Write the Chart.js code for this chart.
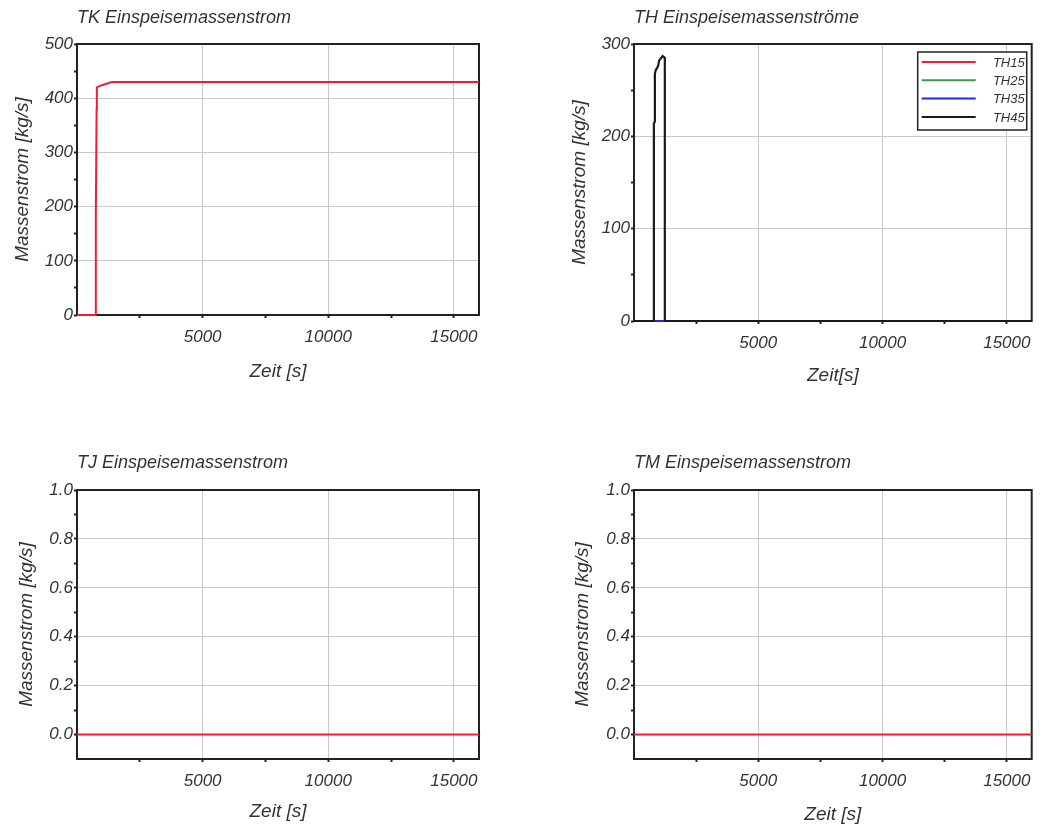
<!DOCTYPE html>
<html><head><meta charset="utf-8">
<script src="https://cdn.jsdelivr.net/npm/chart.js@4.4.0/dist/chart.umd.min.js"></script>
<style>
html,body{margin:0;padding:0;background:#fff;width:1040px;height:829px;overflow:hidden}
canvas{position:absolute}
</style></head><body>
<canvas id="cTK" width="520" height="414" style="left:0;top:0"></canvas>
<canvas id="cTH" width="520" height="414" style="left:520px;top:0"></canvas>
<canvas id="cTJ" width="520" height="415" style="left:0;top:414px"></canvas>
<canvas id="cTM" width="520" height="415" style="left:520px;top:414px"></canvas>
<script>
// ---- axis ticks ----
const X_MIN = 0, X_MAX = 16000;
const X_MAJOR = [5000, 10000, 15000];
const X_MINOR = [2500, 7500, 12500];
const TK_Y_MAJOR = [0, 100, 200, 300, 400, 500];
const TK_Y_MINOR = [50, 150, 250, 350, 450];
const TH_Y_MAJOR = [0, 100, 200, 300];
const TH_Y_MINOR = [50, 150, 250];
const ZERO_Y_MAJOR = [0.0, 0.2, 0.4, 0.6, 0.8, 1.0];
const ZERO_Y_MINOR = [0.1, 0.3, 0.5, 0.7, 0.9];

// ---- data ----
const TK_TIME = [0, 740, 750, 780, 790, 990, 1390, 16000];
const TK_FLOW = [0, 0, 190, 380, 420, 424, 430, 430];

const TH_LABELS = ['TH15', 'TH25', 'TH35', 'TH45'];
const TH15_TIME = [0, 16000];
const TH15_FLOW = [0, 0];
const TH25_TIME = [0, 16000];
const TH25_FLOW = [0, 0];
const TH35_TIME = [0, 16000];
const TH35_FLOW = [0, 0];
const TH45_TIME = [0, 800, 800, 840, 840, 880, 970, 1010, 1150, 1240, 1240, 16000];
const TH45_FLOW = [0, 0, 214, 216, 268, 272, 276, 282, 287, 285, 0, 0];

const TJ_TIME = [0, 16000];
const TJ_FLOW = [0, 0];
const TM_TIME = [0, 16000];
const TM_FLOW = [0, 0];

// ---- styling ----
const TEXT = '#333333';
const GRID = '#c9c9c9';
const FRAME = '#222222';
const RED = '#f01e32';
const GREEN = '#3f9a48';
const BLUE = '#2626e6';
const BLACK = '#1a1a1a';
const FAMILY = '"Liberation Sans", Arial, sans-serif';

Chart.defaults.font.family = FAMILY;
Chart.defaults.font.style = 'italic';
Chart.defaults.color = TEXT;
Chart.defaults.devicePixelRatio = 1;

function pts(t, v) { return t.map((x, i) => ({x: x, y: v[i]})); }
function near(a, list) { return list.some(b => Math.abs(a - b) < 1e-9); }

const framePlugin = {
  id: 'frame',
  beforeDatasetsDraw(chart) {
    const a = chart.chartArea, c = chart.ctx;
    c.save();
    c.strokeStyle = FRAME; c.lineWidth = 2;
    c.strokeRect(a.left, a.top, a.right - a.left, a.bottom - a.top);
    c.restore();
  }
};

const boxLegendPlugin = {
  id: 'boxLegend',
  afterDatasetsDraw(chart, args, opts) {
    if (!opts || !opts.show) return;
    const a = chart.chartArea, c = chart.ctx;
    const x0 = a.right - 114, x1 = a.right - 5, y0 = a.top + 8, y1 = a.top + 86;
    c.save();
    c.fillStyle = '#ffffff';
    c.fillRect(x0, y0, x1 - x0, y1 - y0);
    c.strokeStyle = FRAME; c.lineWidth = 1.5;
    c.strokeRect(x0, y0, x1 - x0, y1 - y0);
    c.font = 'italic 13px ' + FAMILY;
    c.textAlign = 'right'; c.textBaseline = 'middle';
    chart.data.datasets.forEach((ds, i) => {
      const y = y0 + 10 + i * 18.3;
      c.strokeStyle = ds.borderColor; c.lineWidth = 2;
      c.beginPath(); c.moveTo(x0 + 4, y); c.lineTo(x0 + 58, y); c.stroke();
      c.fillStyle = TEXT;
      c.fillText(ds.label, x1 - 2, y + 1);
    });
    c.restore();
  }
};

function makeChart(id, o) {
  const xTicks = X_MAJOR.concat(X_MINOR).sort((a, b) => a - b);
  const yTicks = o.yMajor.concat(o.yMinor).sort((a, b) => a - b);
  const n = o.datasets.length;
  return new Chart(document.getElementById(id), {
    type: 'line',
    data: {datasets: o.datasets.map((d, i) => ({
      label: d.label, data: d.data, borderColor: d.color, backgroundColor: d.color,
      borderWidth: d.width || 2, pointRadius: 0, tension: 0, fill: false, clip: false,
      order: n - i
    }))},
    options: {
      responsive: false, animation: false,
      layout: {padding: {left: 0, right: o.padRight, top: o.padTop, bottom: 0}},
      plugins: {
        legend: {display: false},
        tooltip: {enabled: false},
        title: {display: true, text: o.title, align: 'start', fullSize: false, color: TEXT,
          font: {size: 18, style: 'italic', weight: 'normal'},
          padding: {top: o.titlePadTop, bottom: o.titlePadBottom}},
        boxLegend: {show: !!o.legend}
      },
      scales: {
        x: {
          type: 'linear', min: X_MIN, max: X_MAX,
          afterBuildTicks: s => { s.ticks = xTicks.map(v => ({value: v, lab: near(v, X_MAJOR)})); },
          afterFit: s => { s.height = o.xHeight; },
          border: {display: false},
          grid: {color: c => (c.tick && near(c.tick.value, X_MAJOR)) ? GRID : 'rgba(0,0,0,0)',
                 tickColor: FRAME, tickLength: 3, lineWidth: 1, tickWidth: 2},
          ticks: {autoSkip: false, maxRotation: 0, padding: 9, color: TEXT,
                  font: {size: 17, style: 'italic'},
                  callback: (v, i, t) => t[i].lab ? String(v) : ''},
          title: {display: true, text: o.xTitle, color: TEXT,
                  font: {size: 19, style: 'italic'}, padding: {top: 0, bottom: o.xTitlePad}}
        },
        y: {
          type: 'linear', min: o.yMin, max: o.yMax,
          afterBuildTicks: s => { s.ticks = yTicks.map(v => ({value: v, lab: near(v, o.yMajor)})); },
          afterFit: s => { s.width = o.yWidth; },
          border: {display: false},
          grid: {color: c => (c.tick && near(c.tick.value, o.yMajor)) ? GRID : 'rgba(0,0,0,0)',
                 tickColor: FRAME, tickLength: 3, lineWidth: 1, tickWidth: 2},
          ticks: {autoSkip: false, padding: 1, color: TEXT,
                  font: {size: 17, style: 'italic'},
                  callback: (v, i, t) => t[i].lab ? o.fmt(v) : ''},
          title: {display: true, text: 'Massenstrom [kg/s]', color: TEXT,
                  font: {size: 19, style: 'italic'}, padding: {top: o.yTitlePad, bottom: 0}}
        }
      }
    },
    plugins: [framePlugin, boxLegendPlugin]
  });
}

makeChart('cTK', {
  title: 'TK Einspeisemassenstrom', xTitle: 'Zeit [s]',
  yMin: 0, yMax: 500, yMajor: TK_Y_MAJOR, yMinor: TK_Y_MINOR, fmt: v => String(v),
  padRight: 41, padTop: 0, titlePadTop: 7.2, titlePadBottom: 15.2,
  xHeight: 99, xTitlePad: 30.6, yWidth: 77, yTitlePad: 11.6,
  datasets: [{label: 'TK', data: pts(TK_TIME, TK_FLOW), color: RED}]
});

makeChart('cTH', {
  title: 'TH Einspeisemassenströme', xTitle: 'Zeit[s]',
  yMin: 0, yMax: 300, yMajor: TH_Y_MAJOR, yMinor: TH_Y_MINOR, fmt: v => String(v),
  padRight: 7, padTop: 0, titlePadTop: 7.2, titlePadBottom: 15.2,
  xHeight: 93, xTitlePad: 26.6, yWidth: 114, yTitlePad: 48.6, legend: true,
  datasets: [
    {label: TH_LABELS[0], data: pts(TH15_TIME, TH15_FLOW), color: RED},
    {label: TH_LABELS[1], data: pts(TH25_TIME, TH25_FLOW), color: GREEN},
    {label: TH_LABELS[2], data: pts(TH35_TIME, TH35_FLOW), color: BLUE},
    {label: TH_LABELS[3], data: pts(TH45_TIME, TH45_FLOW), color: BLACK, width: 2.2}
  ]
});

makeChart('cTJ', {
  title: 'TJ Einspeisemassenstrom', xTitle: 'Zeit [s]',
  yMin: -0.1, yMax: 1.0, yMajor: ZERO_Y_MAJOR, yMinor: ZERO_Y_MINOR, fmt: v => v.toFixed(1),
  padRight: 41, padTop: 0, titlePadTop: 38.2, titlePadBottom: 16.2,
  xHeight: 70, xTitlePad: 5.6, yWidth: 77, yTitlePad: 15.6,
  datasets: [{label: 'TJ', data: pts(TJ_TIME, TJ_FLOW), color: RED}]
});

makeChart('cTM', {
  title: 'TM Einspeisemassenstrom', xTitle: 'Zeit [s]',
  yMin: -0.1, yMax: 1.0, yMajor: ZERO_Y_MAJOR, yMinor: ZERO_Y_MINOR, fmt: v => v.toFixed(1),
  padRight: 7, padTop: 0, titlePadTop: 38.2, titlePadBottom: 16.2,
  xHeight: 70, xTitlePad: 2.6, yWidth: 114, yTitlePad: 51.6,
  datasets: [{label: 'TM', data: pts(TM_TIME, TM_FLOW), color: RED}]
});
</script>
</body></html>
